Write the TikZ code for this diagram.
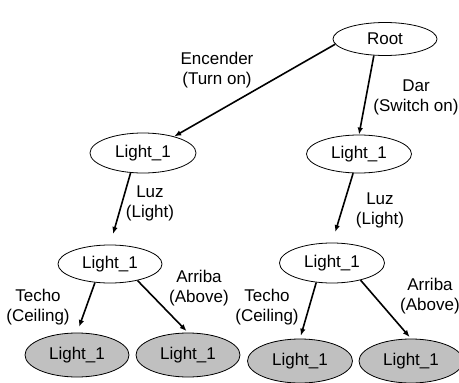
\documentclass[tikz,border=0pt]{standalone}
\usepackage{fontspec}
\setmainfont{Liberation Sans}
\usetikzlibrary{shapes.geometric,arrows.meta}
\begin{document}
\begin{tikzpicture}[x=1pt,y=-1pt,
  every node/.style={font=\fontsize{17}{20}\selectfont},
  ell/.style={ellipse,draw=black,line width=0.8pt,inner sep=0pt,fill=white},
  leaf/.style={ell,fill=leafgray},
  lbl/.style={align=center,inner sep=0pt},
  conn/.style={line width=1.6pt,-{Latex[length=7pt,width=5.5pt]}}]
\definecolor{leafgray}{HTML}{C0C0C0}
\useasboundingbox (0,0) rectangle (459,383);
\node[ell,minimum width=104pt,minimum height=33pt] (root) at (385,39) {Root};
\node[ell,minimum width=106pt,minimum height=40pt] (l1L) at (143,153) {Light\_1};
\node[ell,minimum width=105pt,minimum height=38pt] (l1R) at (359,154) {Light\_1};
\node[ell,minimum width=104pt,minimum height=38pt] (l2L) at (110,264) {Light\_1};
\node[ell,minimum width=105pt,minimum height=40pt] (l2R) at (332,263) {Light\_1};
\node[leaf,minimum width=104pt,minimum height=44pt] (f1) at (77,355) {Light\_1};
\node[leaf,minimum width=104pt,minimum height=44pt] (f2) at (188,355) {Light\_1};
\node[leaf,minimum width=105pt,minimum height=44pt] (f3) at (300,361) {Light\_1};
\node[leaf,minimum width=104pt,minimum height=44pt] (f4) at (411,361) {Light\_1};
\node[lbl] (e1) at (217,70) {Encender\\(Turn on)};
\node[lbl] (e2) at (416,97) {Dar\\(Switch on)};
\node[lbl] (e3) at (150,203) {Luz\\(Light)};
\node[lbl] (e4) at (380,210) {Luz\\(Light)};
\node[lbl] (e5) at (38,307) {Techo\\(Ceiling)};
\node[lbl] (e6) at (199,288) {Arriba\\(Above)};
\node[lbl] (e7) at (267,307) {Techo\\(Ceiling)};
\node[lbl] (e8) at (430,296) {Arriba\\(Above)};
\draw[conn] (root.186) -- (l1L.28);
\draw[conn] (root.236) -- (l1R.90);
\draw[conn,shorten >=11pt] (l1L.238) -- (l2L.north);
\draw[conn,shorten >=11pt] (l1R.253) -- (l2R.north);
\draw[conn,shorten >=6pt] (l2L.231) -- (f1.north);
\draw[conn,shorten >=2pt] (l2L.329) -- (f2.north);
\draw[conn,shorten >=3pt] (l2R.231) -- (f3.north);
\draw[conn,shorten >=2pt] (l2R.329) -- (f4.north);
\end{tikzpicture}
\end{document}
